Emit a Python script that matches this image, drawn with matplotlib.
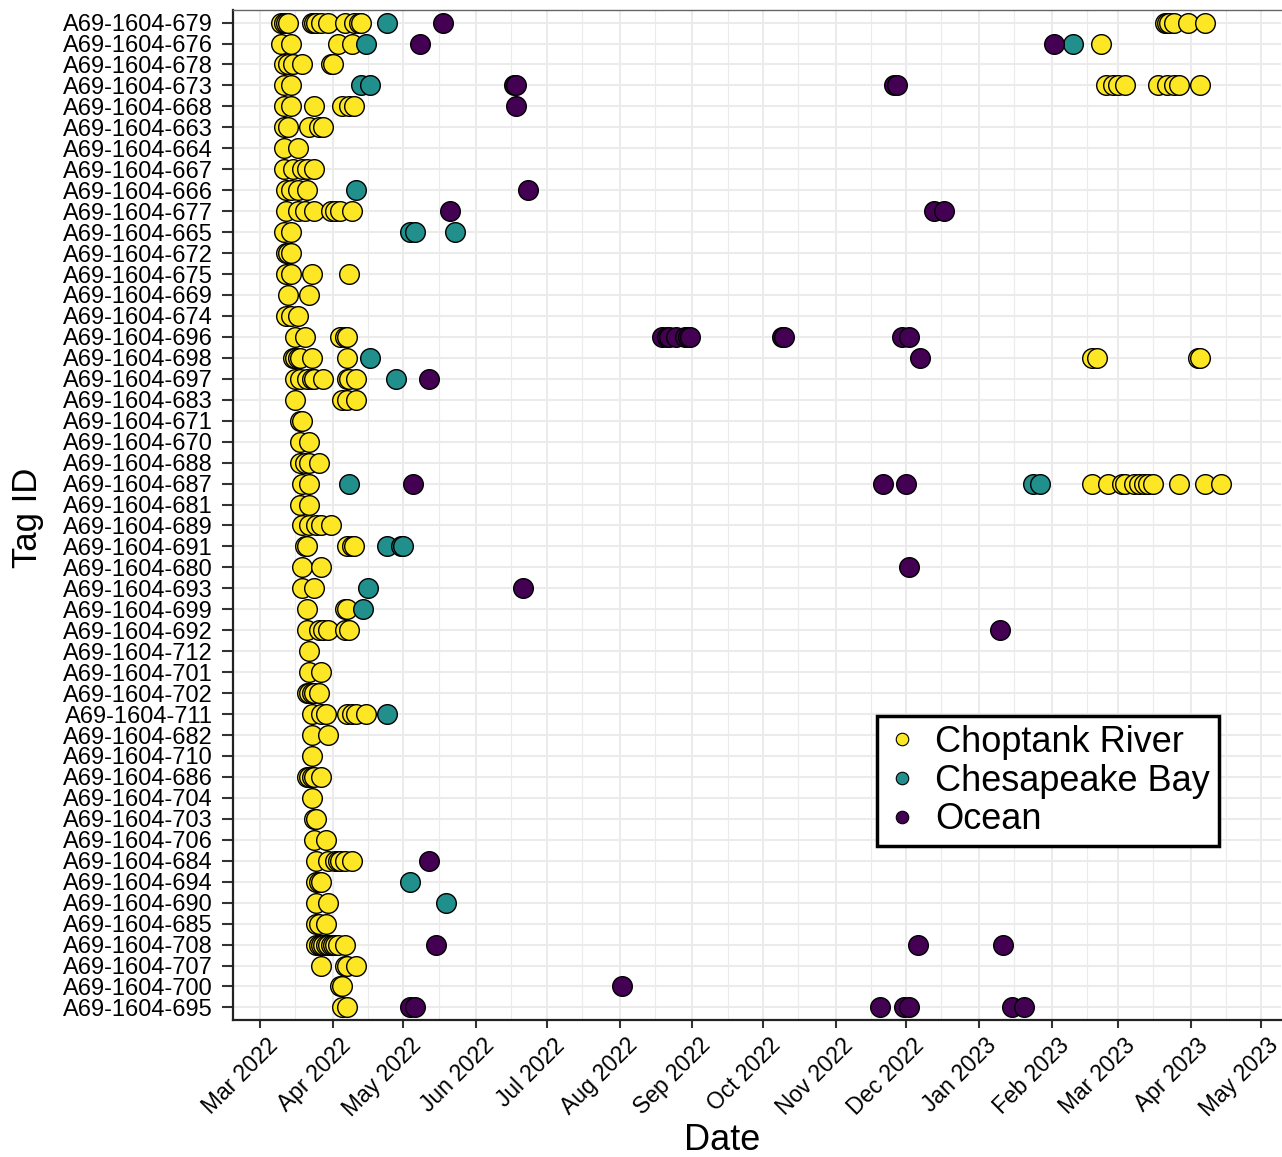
import pandas as pd
import numpy as np
import matplotlib
matplotlib.use("Agg")
import matplotlib.pyplot as plt
import matplotlib.dates as mdates
import matplotlib.transforms as mtransforms
from matplotlib.lines import Line2D

plt.rcParams['font.family'] = ['Liberation Sans', 'DejaVu Sans']

# ------------------ DATOS ------------------

prefijo = "A69-1604-"
tags = ["679", "676", "678", "673", "668", "663", "664", "667", "666", "677",
        "665", "672", "675", "669", "674", "696", "698", "697", "683", "671",
        "670", "688", "687", "681", "689", "691", "680", "693", "699", "692",
        "712", "701", "702", "711", "682", "710", "686", "704", "703", "706",
        "684", "694", "690", "685", "708", "707", "700", "695"]

regiones = ["Choptank River", "Chesapeake Bay", "Ocean"]
colores = ["#FDE725", "#21908C", "#440154"]

river = {
    "679": ["2022-03-10", "2022-03-11", "2022-03-12", "2022-03-13", "2022-03-23", "2022-03-24",
            "2022-03-25", "2022-03-27", "2022-03-30", "2022-04-06", "2022-04-10", "2022-04-12",
            "2022-04-13", "2023-03-21", "2023-03-22", "2023-03-23", "2023-03-25", "2023-03-31",
            "2023-04-07"],
    "676": ["2022-03-10", "2022-03-14", "2022-04-03", "2022-04-09", "2023-02-22"],
    "678": ["2022-03-11", "2022-03-13", "2022-03-15", "2022-03-19", "2022-03-31", "2022-04-01"],
    "673": ["2022-03-11", "2022-03-14", "2023-02-24", "2023-02-27", "2023-03-01", "2023-03-04",
            "2023-03-18", "2023-03-22", "2023-03-25", "2023-03-27", "2023-04-05"],
    "668": ["2022-03-11", "2022-03-14", "2022-03-24", "2022-04-05", "2022-04-08", "2022-04-10"],
    "663": ["2022-03-11", "2022-03-13", "2022-03-22", "2022-03-26", "2022-03-28"],
    "664": ["2022-03-11", "2022-03-17"],
    "667": ["2022-03-11", "2022-03-15", "2022-03-19", "2022-03-21", "2022-03-24"],
    "666": ["2022-03-12", "2022-03-14", "2022-03-17", "2022-03-21"],
    "677": ["2022-03-12", "2022-03-17", "2022-03-20", "2022-03-24", "2022-03-31", "2022-04-02",
            "2022-04-04", "2022-04-09"],
    "665": ["2022-03-11", "2022-03-14"],
    "672": ["2022-03-12", "2022-03-13", "2022-03-14"],
    "675": ["2022-03-12", "2022-03-14", "2022-03-23", "2022-04-08"],
    "669": ["2022-03-13", "2022-03-22"],
    "674": ["2022-03-12", "2022-03-14", "2022-03-17"],
    "696": ["2022-03-16", "2022-03-20", "2022-04-04", "2022-04-06", "2022-04-07"],
    "698": ["2022-03-15", "2022-03-16", "2022-03-17", "2022-03-18", "2022-03-23", "2022-04-07",
            "2023-02-18", "2023-02-20", "2023-04-04", "2023-04-05"],
    "697": ["2022-03-16", "2022-03-18", "2022-03-21", "2022-03-23", "2022-03-24", "2022-03-28",
            "2022-04-07", "2022-04-08", "2022-04-11"],
    "683": ["2022-03-16", "2022-04-05", "2022-04-07", "2022-04-11"],
    "671": ["2022-03-18", "2022-03-19"],
    "670": ["2022-03-18", "2022-03-22"],
    "688": ["2022-03-18", "2022-03-20", "2022-03-22", "2022-03-26"],
    "687": ["2022-03-19", "2022-03-22", "2023-02-18", "2023-02-25", "2023-03-03", "2023-03-04",
            "2023-03-08", "2023-03-10", "2023-03-12", "2023-03-14", "2023-03-16", "2023-03-27",
            "2023-04-07", "2023-04-14"],
    "681": ["2022-03-18", "2022-03-22"],
    "689": ["2022-03-19", "2022-03-22", "2022-03-25", "2022-03-27", "2022-03-31"],
    "691": ["2022-03-20", "2022-03-21", "2022-04-07", "2022-04-09", "2022-04-10"],
    "680": ["2022-03-19", "2022-03-27"],
    "693": ["2022-03-19", "2022-03-24"],
    "699": ["2022-03-21", "2022-04-06", "2022-04-07"],
    "692": ["2022-03-21", "2022-03-26", "2022-03-28", "2022-03-30", "2022-04-06", "2022-04-08"],
    "712": ["2022-03-22"],
    "701": ["2022-03-22", "2022-03-27"],
    "702": ["2022-03-21", "2022-03-22", "2022-03-23", "2022-03-24", "2022-03-26"],
    "711": ["2022-03-23", "2022-03-27", "2022-03-29", "2022-04-07", "2022-04-09", "2022-04-11",
            "2022-04-15"],
    "682": ["2022-03-23", "2022-03-30"],
    "710": ["2022-03-23"],
    "686": ["2022-03-21", "2022-03-22", "2022-03-23", "2022-03-24", "2022-03-27"],
    "704": ["2022-03-23"],
    "703": ["2022-03-24", "2022-03-25"],
    "706": ["2022-03-24", "2022-03-29"],
    "684": ["2022-03-25", "2022-03-30", "2022-04-02", "2022-04-03", "2022-04-04", "2022-04-06",
            "2022-04-09"],
    "694": ["2022-03-25", "2022-03-26", "2022-03-27"],
    "690": ["2022-03-25", "2022-03-30"],
    "685": ["2022-03-25", "2022-03-26", "2022-03-29"],
    "708": ["2022-03-25", "2022-03-26", "2022-03-27", "2022-03-28", "2022-03-29", "2022-03-30",
            "2022-03-31", "2022-04-01", "2022-04-02", "2022-04-03", "2022-04-06"],
    "707": ["2022-03-27", "2022-04-06", "2022-04-07", "2022-04-11"],
    "700": ["2022-04-04", "2022-04-05"],
    "695": ["2022-04-05", "2022-04-07"],
}

bay = {
    "679": ["2022-04-24"],
    "676": ["2022-04-15", "2023-02-10"],
    "673": ["2022-04-13", "2022-04-17"],
    "666": ["2022-04-11"],
    "665": ["2022-05-04", "2022-05-06", "2022-05-23"],
    "698": ["2022-04-17"],
    "697": ["2022-04-28"],
    "687": ["2022-04-08", "2023-01-24", "2023-01-27"],
    "691": ["2022-04-24", "2022-04-30", "2022-05-01"],
    "693": ["2022-04-16"],
    "699": ["2022-04-14"],
    "711": ["2022-04-24"],
    "694": ["2022-05-04"],
    "690": ["2022-05-19"],
}

ocean = {
    "679": ["2022-05-18"],
    "676": ["2022-05-08", "2023-02-02"],
    "673": ["2022-06-17", "2022-06-18", "2022-11-26", "2022-11-27"],
    "668": ["2022-06-18"],
    "666": ["2022-06-23"],
    "677": ["2022-05-21", "2022-12-13", "2022-12-17"],
    "696": ["2022-08-19", "2022-08-21", "2022-08-22", "2022-08-25", "2022-08-29", "2022-08-30",
            "2022-08-31", "2022-10-09", "2022-10-10", "2022-11-29", "2022-12-02"],
    "698": ["2022-12-07"],
    "697": ["2022-05-12"],
    "687": ["2022-05-05", "2022-11-21", "2022-12-01"],
    "680": ["2022-12-02"],
    "693": ["2022-06-21"],
    "692": ["2023-01-10"],
    "684": ["2022-05-12"],
    "708": ["2022-05-15", "2022-12-06", "2023-01-11"],
    "700": ["2022-08-02"],
    "695": ["2022-05-04", "2022-05-06", "2022-11-20", "2022-11-30", "2022-12-02",
            "2023-01-15", "2023-01-20"],
}

# ------------------ TABLA ------------------

filas = []
for region, detecciones in zip(regiones, [river, bay, ocean]):
    for tag, fechas in detecciones.items():
        for f in fechas:
            filas.append((tag, pd.Timestamp(f), region))
df = pd.DataFrame(filas, columns=["tag", "fecha", "region"])
df["fila"] = df["tag"].map({t: i for i, t in enumerate(tags)})

# ------------------ GRAFICO ------------------

fig = plt.figure(figsize=(12.82, 11.57), dpi=100)
ax = fig.add_axes([233 / 1282, 1 - 1020 / 1157, 1048 / 1282, 1010 / 1157])

for region, color in zip(regiones, colores):
    sub = df[df["region"] == region]
    ax.scatter(sub["fecha"], sub["fila"], s=200, c=color, edgecolors="black",
               linewidths=1.0, zorder=3)

inicio = pd.Timestamp("2022-03-01")
ax.set_xlim(inicio - pd.Timedelta(days=11.5), inicio + pd.Timedelta(days=434.5))
ax.set_ylim(len(tags) - 0.4, -0.6)

ax.set_yticks(range(len(tags)))
ax.set_yticklabels([prefijo + t for t in tags])

ax.xaxis.set_major_locator(mdates.MonthLocator())
ax.xaxis.set_minor_locator(mdates.MonthLocator(bymonthday=16))
ax.xaxis.set_major_formatter(mdates.DateFormatter("%b %Y"))

ax.grid(True, which="major", color="#EBEBEB", linewidth=1.5, zorder=0)
ax.grid(True, which="minor", axis="x", color="#EBEBEB", linewidth=0.8, zorder=0)
ax.set_axisbelow(True)

ax.tick_params(axis="y", which="major", length=8, width=1.5, color="#333333",
               labelsize=17, pad=6.5, labelcolor="black")
ax.tick_params(axis="x", which="major", length=6, width=1.5, color="#333333",
               labelsize=16.5, pad=4, labelcolor="black")
ax.tick_params(axis="x", which="minor", length=0)

desplaza = mtransforms.ScaledTranslation(6 / 100, 0, fig.dpi_scale_trans)
for lab in ax.get_xticklabels():
    lab.set_rotation(45)
    lab.set_ha("right")
    lab.set_va("top")
    lab.set_rotation_mode("anchor")
    lab.set_transform(lab.get_transform() + desplaza)

for lado in ("left", "bottom"):
    ax.spines[lado].set_color("#222222")
    ax.spines[lado].set_linewidth(1.6)
ax.spines["top"].set_color("#666666")
ax.spines["top"].set_linewidth(1.0)
ax.spines["right"].set_visible(False)

fig.text(722 / 1282, 1 - 1140 / 1157, "Date", ha="center", va="center", fontsize=26)
fig.text(28 / 1282, 1 - 518 / 1157, "Tag ID", ha="center", va="center",
         rotation=90, fontsize=25)

manijas = [Line2D([0], [0], marker="o", linestyle="none", markersize=9,
                  markerfacecolor=c, markeredgecolor="black", markeredgewidth=0.8)
           for c in colores]
leg = ax.legend(manijas, regiones, loc="upper left",
                bbox_to_anchor=((877 - 233) / 1048, (1020 - 716) / 1010),
                fontsize=26, frameon=True, fancybox=False, framealpha=1,
                edgecolor="black", borderpad=0.25, labelspacing=0.1,
                handlelength=0.9, handletextpad=0.45, borderaxespad=0)
leg.get_frame().set_linewidth(2.5)

fig.savefig("out.png", dpi=100)
